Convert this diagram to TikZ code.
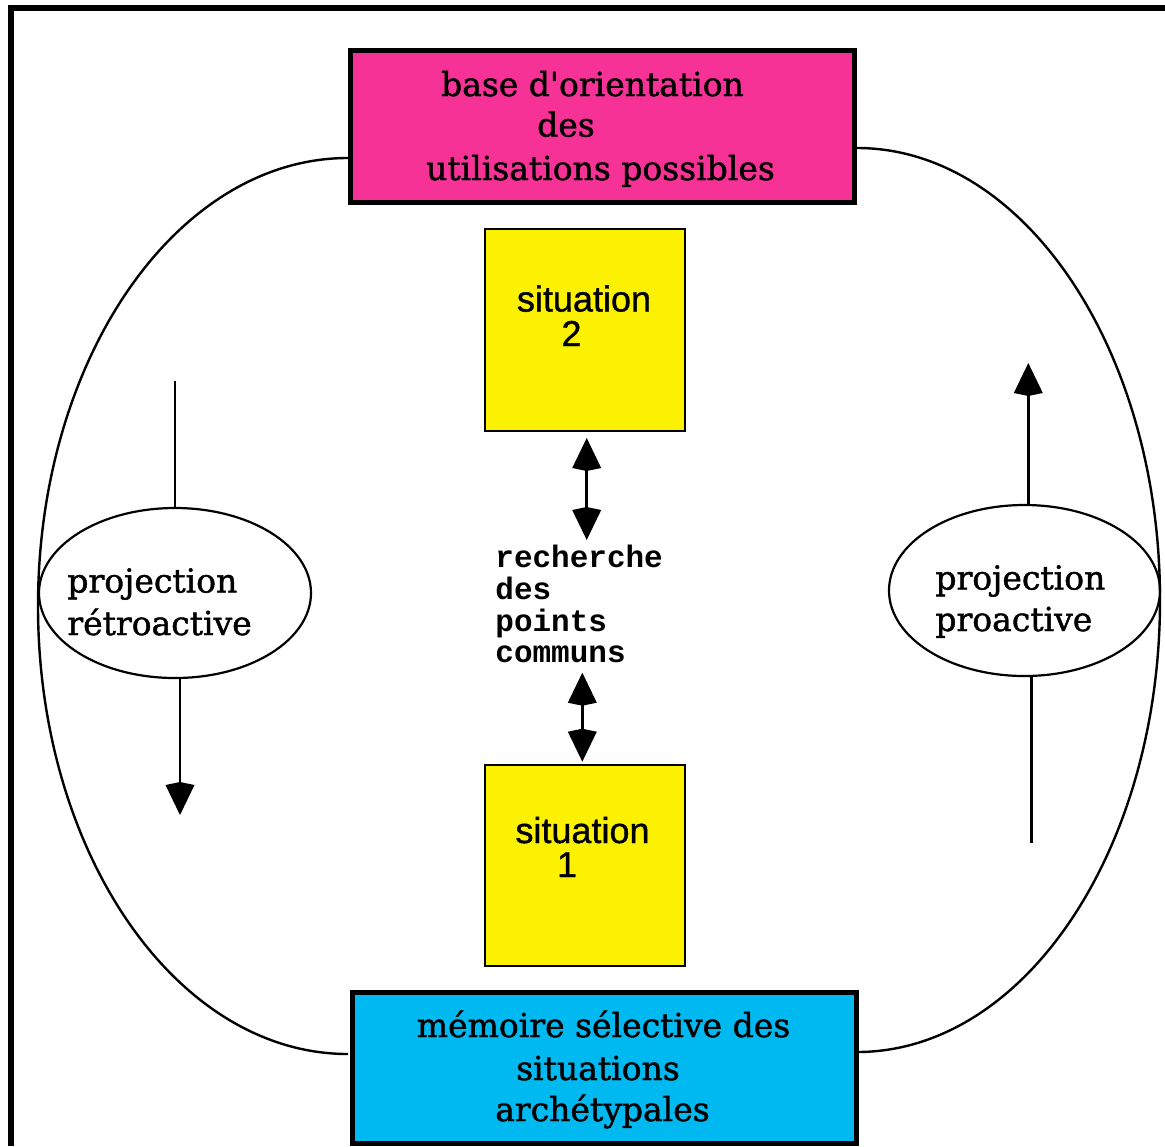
\documentclass[tikz,border=0pt]{standalone}
\usepackage{fontspec}
\usetikzlibrary{arrows.meta,shapes.geometric}
\newfontfamily\serifd[FakeBold=1.3]{DejaVu Serif}
\newfontfamily\sansd[FakeBold=1]{Liberation Sans}
\newfontfamily\monod{Liberation Mono}
\definecolor{pinkc}{RGB}{247,50,150}
\definecolor{yellowc}{RGB}{252,241,0}
\definecolor{bluec}{RGB}{0,185,240}
\tikzset{
  bigbox/.style={draw=black, line width=2.5pt, inner sep=0pt},
  sitbox/.style={draw=black, line width=1pt, fill=yellowc, inner sep=0pt, minimum width=100pt},
  loopline/.style={line width=1.2pt},
  ell/.style={draw=black, ellipse, line width=1.1pt, inner sep=0pt},
  serift/.style={anchor=base, inner sep=0pt, font=\serifd\fontsize{16.5}{20}\selectfont},
  seriflt/.style={anchor=base west, inner sep=0pt, font=\serifd\fontsize{16.5}{20}\selectfont},
  sanst/.style={anchor=base, inner sep=0pt, font=\sansd\fontsize{18}{22}\selectfont},
  monot/.style={anchor=base west, inner sep=0pt, font=\monod\bfseries\fontsize{15.5}{18}\selectfont},
  kitetip/.style={line width=1.3pt},
  headk/.tip={Kite[length=16.5pt,width=14.5pt,inset=1.5pt]}
}
\begin{document}
\begin{tikzpicture}[x=0.5pt,y=-0.5pt]
\useasboundingbox (0,0) rectangle (1165,1146);
% frame
\draw[line width=3pt] (11,1146) -- (11,8) -- (1165,8);

% coordinates for loop
\coordinate (lt) at (348,158);
\coordinate (lm) at (38,606);
\coordinate (lb) at (348,1054);
\coordinate (rt) at (857,148);
\coordinate (rm) at (1160,600);
\coordinate (rb) at (857,1052);
\draw[loopline] (lt) .. controls (176.8,158) and (38,358.6) .. (lm)
  .. controls (38,853.4) and (176.8,1054) .. (lb);
\draw[loopline] (rt) .. controls (1024.3,148) and (1160,350.4) .. (rm)
  .. controls (1160,849.6) and (1024.3,1052) .. (rb);

% main boxes
\node[bigbox, fill=pinkc, minimum width=252pt, minimum height=76pt] (pink) at (602,126.5) {};
\node[bigbox, fill=bluec, minimum width=252.25pt, minimum height=75.75pt] (blue) at (604.25,1067.75) {};
\node[sitbox, minimum height=101pt] (sit2) at (584.5,329.5) {};
\node[sitbox, minimum height=100.75pt] (sit1) at (584.5,865.25) {};

% pink text
\node[serift] (p1) at (592.5,96) {base d'orientation};
\node[serift] (p2) at (566,136.5) {des};
\node[serift] (p3) at (600.5,180) {utilisations possibles};
% blue text
\node[serift] (b1) at (603.5,1037) {mémoire sélective des};
\node[serift] (b2) at (598,1080) {situations};
\node[serift] (b3) at (602.5,1121) {archétypales};
% situation texts
\node[sanst] (s2a) at (584,311.5) {situation};
\node[sanst] (s2b) at (571.5,346) {2};
\node[sanst] (s1a) at (582.5,843) {situation};
\node[sanst] (s1b) at (567,877) {1};

% middle text
\node[monot] (m1) at (495,567) {recherche};
\node[monot] (m2) at (495,599) {des};
\node[monot] (m3) at (495,631) {points};
\node[monot] (m4) at (495,662.5) {communs};

% double arrows
\coordinate (d1t) at (586.7,438);
\coordinate (d1b) at (586.7,540);
\coordinate (d2t) at (582.3,672.7);
\coordinate (d2b) at (582.3,761.7);
\draw[kitetip, {headk}-{headk}] (d1t) -- (d1b);
\draw[kitetip, {headk}-{headk}] (d2t) -- (d2b);

% ellipses
\node[ell, minimum width=136pt, minimum height=85pt] (lell) at (175,593) {};
\node[ell, minimum width=135.5pt, minimum height=85.5pt] (rell) at (1024.5,590.5) {};
\node[seriflt] (l1) at (67,592.5) {projection};
\node[seriflt] (l2) at (67,635) {rétroactive};
\node[seriflt] (r1) at (935,589.5) {projection};
\node[seriflt] (r2) at (935,631) {proactive};

% side arrows
\coordinate (la) at (175,381);
\coordinate (lz) at (180,815);
\coordinate (ra) at (1028.3,363);
\coordinate (rz) at (1031.7,843);
\draw[kitetip] (la) -- (la |- lell.north);
\draw[kitetip, -{headk}] (lell.south -| lz) -- (lz);
\draw[kitetip, -{headk}] (rell.north -| ra) -- (ra);
\draw[kitetip] (rell.south -| rz) -- (rz);
\end{tikzpicture}
\end{document}
